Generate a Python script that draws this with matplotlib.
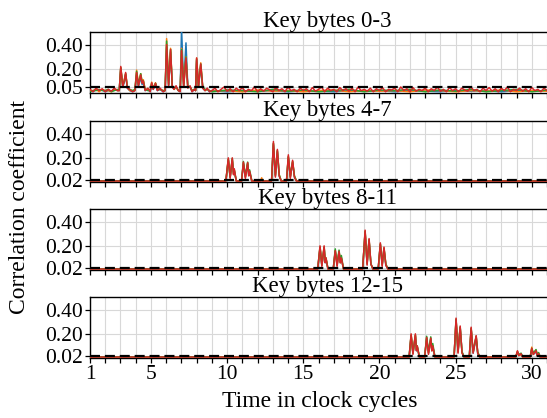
import numpy as np
import matplotlib
matplotlib.use("Agg")
import matplotlib.pyplot as plt

plt.rcParams["font.family"] = ["Liberation Serif", "DejaVu Serif"]

# ---------------------------------------------------------------- data
SERIES_COLORS = ["#1f77b4", "#ff7f0e", "#2ca02c", "#d62728"]
TITLES = ["Key bytes 0-3", "Key bytes 4-7", "Key bytes 8-11", "Key bytes 12-15"]
THRESHOLDS = [0.05, 0.02, 0.02, 0.02]
Y_TICKS = [[0.05, 0.20, 0.40], [0.02, 0.20, 0.40], [0.02, 0.20, 0.40], [0.02, 0.20, 0.40]]
Y_TICK_LABELS = [["0.05", "0.20", "0.40"], ["0.02", "0.20", "0.40"],
                 ["0.02", "0.20", "0.40"], ["0.02", "0.20", "0.40"]]
X_TICKS = list(range(1, 32))
X_LABELED = [1, 5, 10, 15, 20, 25, 30]

# key bytes 0-3: first eight cycles in detail
p1_head_t = [1.0, 1.2, 1.4, 1.6, 1.8, 2.0, 2.2, 2.4, 2.6, 2.8,
             2.92, 3.02, 3.15, 3.25, 3.34, 3.45, 3.6, 3.8,
             3.95, 4.06, 4.18, 4.33, 4.42, 4.5, 4.62, 4.8,
             4.95, 5.05, 5.15, 5.3, 5.42, 5.6, 5.8,
             5.93, 6.03, 6.16, 6.29, 6.4, 6.52, 6.65, 6.8,
             6.92, 7.01, 7.15, 7.3, 7.42, 7.57, 7.7, 7.85,
             7.93, 8.0, 8.12, 8.27, 8.4, 8.55, 8.7, 8.85]
p1_red_head = [0.03, 0.01, 0.04, 0.02, 0.035, 0.01, 0.03, 0.015, 0.04, 0.02,
               0.02, 0.22, 0.05, 0.10, 0.17, 0.04, 0.03, 0.01,
               0.02, 0.17, 0.06, 0.15, 0.08, 0.10, 0.02, 0.04,
               0.01, 0.085, 0.03, 0.08, 0.02, 0.04, 0.01,
               0.02, 0.40, 0.06, 0.36, 0.05, 0.03, 0.06, 0.02,
               0.01, 0.35, 0.05, 0.29, 0.04, 0.06, 0.01, 0.03,
               0.02, 0.29, 0.05, 0.24, 0.04, 0.02, 0.04, 0.01]
p1_blue_head = [0.02, 0.01, 0.03, 0.02, 0.025, 0.01, 0.02, 0.015, 0.03, 0.02,
                0.02, 0.20, 0.05, 0.09, 0.15, 0.04, 0.02, 0.01,
                0.02, 0.15, 0.05, 0.13, 0.07, 0.09, 0.02, 0.03,
                0.01, 0.07, 0.03, 0.07, 0.02, 0.03, 0.01,
                0.02, 0.38, 0.06, 0.34, 0.05, 0.03, 0.05, 0.02,
                0.01, 0.53, 0.06, 0.415, 0.05, 0.05, 0.01, 0.03,
                0.02, 0.27, 0.05, 0.22, 0.04, 0.02, 0.03, 0.01]
p1_orange_head = [0.02, 0.02, 0.03, 0.01, 0.03, 0.02, 0.02, 0.01, 0.03, 0.02,
                  0.02, 0.21, 0.06, 0.11, 0.16, 0.05, 0.02, 0.02,
                  0.02, 0.19, 0.07, 0.16, 0.09, 0.11, 0.03, 0.03,
                  0.02, 0.09, 0.04, 0.085, 0.03, 0.03, 0.02,
                  0.02, 0.45, 0.07, 0.37, 0.06, 0.03, 0.05, 0.02,
                  0.02, 0.37, 0.06, 0.30, 0.05, 0.05, 0.02, 0.03,
                  0.02, 0.29, 0.06, 0.25, 0.05, 0.02, 0.03, 0.02]
p1_green_head = [0.01, 0.02, 0.02, 0.03, 0.02, 0.02, 0.03, 0.01, 0.02, 0.03,
                 0.02, 0.21, 0.06, 0.10, 0.16, 0.05, 0.03, 0.02,
                 0.03, 0.18, 0.07, 0.16, 0.09, 0.10, 0.03, 0.02,
                 0.02, 0.08, 0.04, 0.08, 0.03, 0.03, 0.02,
                 0.02, 0.43, 0.07, 0.36, 0.06, 0.04, 0.05, 0.02,
                 0.02, 0.36, 0.06, 0.30, 0.05, 0.05, 0.02, 0.03,
                 0.02, 0.28, 0.06, 0.24, 0.05, 0.03, 0.03, 0.02]

# key bytes 0-3: remaining cycles (red sampled every 0.2 cycle, others every cycle)
p1_tail_fine_t = np.round(np.arange(9.0, 31.01, 0.2), 1)
p1_red_tail = [0.02, 0.04, 0.01, 0.03, 0.05, 0.015, 0.035, 0.01, 0.04, 0.02,
               0.045, 0.01, 0.03, 0.02, 0.05, 0.01, 0.035, 0.015, 0.04, 0.025,
               0.01, 0.045, 0.02, 0.035, 0.01, 0.05, 0.02, 0.03, 0.01, 0.04,
               0.02, 0.035, 0.01, 0.045, 0.015, 0.03, 0.05, 0.01, 0.04, 0.02,
               0.03, 0.01, 0.045, 0.02, 0.035, 0.015, 0.04, 0.01, 0.05, 0.02,
               0.03, 0.015, 0.04, 0.01, 0.035, 0.02, 0.045, 0.01, 0.03, 0.025,
               0.04, 0.01, 0.05, 0.02, 0.035, 0.01, 0.045, 0.015, 0.03, 0.02,
               0.04, 0.01, 0.035, 0.02, 0.05, 0.015, 0.03, 0.01, 0.045, 0.02,
               0.035, 0.01, 0.04, 0.025, 0.015, 0.05, 0.02, 0.03, 0.01, 0.04,
               0.02, 0.045, 0.015, 0.035, 0.01, 0.04, 0.02, 0.05, 0.01, 0.03,
               0.02, 0.04, 0.015, 0.035, 0.01, 0.045, 0.02, 0.03, 0.01, 0.04,
               0.02]
p1_tail_coarse_t = list(range(9, 32))
p1_blue_tail = [0.02, 0.01, 0.02, 0.015, 0.02, 0.01, 0.02, 0.015, 0.01, 0.02, 0.015, 0.02,
                0.01, 0.02, 0.015, 0.01, 0.02, 0.015, 0.02, 0.01, 0.02, 0.015, 0.02]
p1_orange_tail = [0.015, 0.02, 0.01, 0.025, 0.015, 0.02, 0.01, 0.02, 0.025, 0.01, 0.02, 0.015,
                  0.02, 0.01, 0.025, 0.02, 0.01, 0.02, 0.015, 0.025, 0.01, 0.02, 0.015]
p1_green_tail = [0.01, 0.025, 0.02, 0.01, 0.03, 0.015, 0.025, 0.01, 0.02, 0.03, 0.01, 0.025,
                 0.02, 0.03, 0.01, 0.025, 0.015, 0.03, 0.01, 0.02, 0.03, 0.01, 0.025]

# key bytes 4-7
t2 = [1.0, 9.92, 10.08, 10.2, 10.34, 10.42, 10.47, 10.6, 10.95, 11.07, 11.2, 11.35, 11.42,
      11.48, 11.62, 12.2, 12.27, 12.34, 12.92, 13.04, 13.17, 13.3, 13.42, 13.55, 13.9, 14.02,
      14.15, 14.3, 14.42, 14.55, 31.0]
p2_blue = [0.01, 0.01, 0.18, 0.04, 0.18, 0.07, 0.09, 0.01, 0.01, 0.15, 0.04, 0.15, 0.06,
           0.08, 0.01, 0.01, 0.01, 0.01, 0.01, 0.31, 0.05, 0.25, 0.05, 0.01, 0.01, 0.20,
           0.04, 0.16, 0.04, 0.01, 0.01]
p2_orange = [0.01, 0.01, 0.19, 0.04, 0.19, 0.07, 0.10, 0.01, 0.01, 0.16, 0.04, 0.155, 0.06,
             0.08, 0.01, 0.01, 0.035, 0.01, 0.01, 0.32, 0.05, 0.26, 0.06, 0.01, 0.01, 0.21,
             0.04, 0.17, 0.05, 0.01, 0.01]
p2_green = [0.01, 0.01, 0.19, 0.04, 0.195, 0.08, 0.10, 0.01, 0.01, 0.17, 0.05, 0.165, 0.07,
            0.10, 0.01, 0.01, 0.015, 0.01, 0.01, 0.32, 0.06, 0.26, 0.06, 0.01, 0.01, 0.21,
            0.05, 0.17, 0.05, 0.01, 0.01]
p2_red = [0.008, 0.008, 0.20, 0.03, 0.20, 0.06, 0.11, 0.008, 0.008, 0.165, 0.03, 0.16, 0.05,
          0.09, 0.008, 0.008, 0.012, 0.008, 0.008, 0.335, 0.04, 0.27, 0.05, 0.008, 0.008, 0.225,
          0.03, 0.18, 0.04, 0.008, 0.008]

# key bytes 8-11
t3 = [1.0, 15.95, 16.1, 16.22, 16.37, 16.44, 16.49, 16.62, 16.97, 17.1, 17.22, 17.35, 17.43,
      17.5, 17.64, 18.9, 19.06, 19.19, 19.32, 19.44, 19.57, 19.92, 20.06, 20.18, 20.3, 20.42,
      20.55, 31.0]
p3_blue = [0.01, 0.01, 0.18, 0.04, 0.18, 0.06, 0.09, 0.01, 0.01, 0.15, 0.04, 0.15, 0.06,
           0.09, 0.01, 0.01, 0.31, 0.05, 0.24, 0.05, 0.01, 0.01, 0.21, 0.04, 0.17, 0.04,
           0.01, 0.01]
p3_orange = [0.01, 0.01, 0.19, 0.04, 0.19, 0.07, 0.10, 0.01, 0.01, 0.16, 0.04, 0.155, 0.06,
             0.10, 0.01, 0.01, 0.32, 0.05, 0.25, 0.05, 0.01, 0.01, 0.215, 0.04, 0.18, 0.05,
             0.01, 0.01]
p3_green = [0.01, 0.01, 0.19, 0.04, 0.19, 0.07, 0.10, 0.01, 0.01, 0.175, 0.05, 0.165, 0.07,
            0.12, 0.01, 0.01, 0.32, 0.06, 0.25, 0.05, 0.01, 0.01, 0.215, 0.05, 0.18, 0.05,
            0.01, 0.01]
p3_red = [0.008, 0.008, 0.20, 0.03, 0.20, 0.06, 0.10, 0.008, 0.008, 0.16, 0.03, 0.155, 0.06,
          0.10, 0.008, 0.008, 0.33, 0.04, 0.26, 0.05, 0.008, 0.008, 0.225, 0.03, 0.19, 0.04,
          0.008, 0.008]

# key bytes 12-15
t4 = [1.0,
      21.95, 22.08, 22.2, 22.36, 22.43, 22.48, 22.62,
      22.97, 23.1, 23.22, 23.37, 23.44, 23.5, 23.64,
      24.9, 25.03, 25.16, 25.3, 25.42, 25.55,
      25.9, 26.02, 26.15, 26.35, 26.45, 26.58,
      28.95, 29.06, 29.15, 29.3, 29.4,
      29.9, 30.0, 30.1, 30.28, 30.36, 30.45, 30.55,
      31.0]
p4_blue = [0.01,
           0.01, 0.18, 0.04, 0.18, 0.06, 0.09, 0.01,
           0.01, 0.16, 0.04, 0.15, 0.06, 0.09, 0.01,
           0.01, 0.31, 0.05, 0.25, 0.05, 0.01,
           0.01, 0.24, 0.04, 0.17, 0.04, 0.01,
           0.01, 0.05, 0.02, 0.03, 0.01,
           0.01, 0.07, 0.03, 0.05, 0.02, 0.03, 0.01,
           0.01]
p4_orange = [0.01,
             0.01, 0.19, 0.04, 0.19, 0.07, 0.10, 0.01,
             0.01, 0.17, 0.04, 0.16, 0.06, 0.10, 0.01,
             0.01, 0.32, 0.05, 0.255, 0.05, 0.01,
             0.01, 0.245, 0.05, 0.18, 0.05, 0.01,
             0.01, 0.055, 0.02, 0.03, 0.01,
             0.01, 0.09, 0.03, 0.065, 0.02, 0.04, 0.01,
             0.01]
p4_green = [0.01,
            0.01, 0.19, 0.04, 0.19, 0.07, 0.10, 0.01,
            0.01, 0.18, 0.05, 0.175, 0.07, 0.12, 0.01,
            0.01, 0.32, 0.06, 0.255, 0.05, 0.01,
            0.01, 0.245, 0.05, 0.18, 0.05, 0.01,
            0.01, 0.05, 0.03, 0.04, 0.01,
            0.01, 0.08, 0.04, 0.07, 0.03, 0.045, 0.01,
            0.01]
p4_red = [0.008,
          0.008, 0.20, 0.03, 0.20, 0.06, 0.10, 0.008,
          0.008, 0.17, 0.03, 0.165, 0.06, 0.10, 0.008,
          0.008, 0.33, 0.04, 0.265, 0.04, 0.008,
          0.008, 0.255, 0.04, 0.185, 0.04, 0.008,
          0.008, 0.06, 0.02, 0.035, 0.008,
          0.008, 0.08, 0.03, 0.06, 0.02, 0.035, 0.008,
          0.008]

panels = [
    [
        (p1_head_t + list(p1_tail_coarse_t), p1_blue_head + p1_blue_tail),
        (p1_head_t + list(p1_tail_coarse_t), p1_orange_head + p1_orange_tail),
        (p1_head_t + list(p1_tail_coarse_t), p1_green_head + p1_green_tail),
        (p1_head_t + list(p1_tail_fine_t), p1_red_head + p1_red_tail),
    ],
    [(t2, p2_blue), (t2, p2_orange), (t2, p2_green), (t2, p2_red)],
    [(t3, p3_blue), (t3, p3_orange), (t3, p3_green), (t3, p3_red)],
    [(t4, p4_blue), (t4, p4_orange), (t4, p4_green), (t4, p4_red)],
]

# ---------------------------------------------------------------- figure
W, H = 547, 418
fig = plt.figure(figsize=(W / 100, H / 100), dpi=100)

left = 90 / W
width = (547 - 90) / W
panel_bottoms_px = [93, 182, 270, 358]
panel_height = 61 / H

TICK_FS = 15.5
for i, series in enumerate(panels):
    bottom = 1 - panel_bottoms_px[i] / H
    ax = fig.add_axes([left, bottom, width, panel_height])
    for (t, v), c in zip(series, SERIES_COLORS):
        ax.plot(t, v, color=c, lw=1.1, zorder=3)
    ax.axhline(THRESHOLDS[i], color="black", lw=1.6, ls=(0, (4.5, 2.2)), zorder=4)

    ax.set_xlim(1, 31)
    ax.set_ylim(0.0, 0.505)
    ax.set_xticks(X_TICKS)
    if i == len(panels) - 1:
        ax.set_xticklabels([str(x) if x in X_LABELED else "" for x in X_TICKS])
    else:
        ax.set_xticklabels([])
    ax.set_yticks(Y_TICKS[i])
    ax.set_yticklabels(Y_TICK_LABELS[i])
    ax.tick_params(axis="both", direction="out", length=3.5, width=0.9,
                   labelsize=TICK_FS, pad=1.5, colors="black")
    ax.grid(True, color="#d8d8d8", lw=0.8, zorder=0)
    ax.set_axisbelow(True)
    ax.spines["right"].set_visible(False)
    for s in ("top", "left", "bottom"):
        ax.spines[s].set_linewidth(1.0)
    ax.set_title(TITLES[i], fontsize=16.5, pad=2.5, x=0.52)

fig.text(20 / W, 1 - 207 / H, "Correlation coefficient", rotation=90,
         ha="center", va="center", fontsize=17)
fig.text(320 / W, 1 - 402 / H, "Time in clock cycles", ha="center", va="center", fontsize=17)

fig.savefig("out.png", dpi=100)
